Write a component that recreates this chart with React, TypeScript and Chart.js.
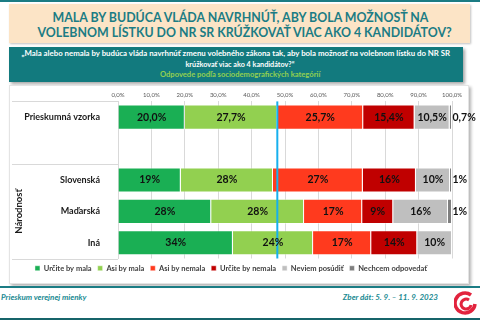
import React, { useEffect, useLayoutEffect, useRef, useState } from "react";
import { Chart, registerables } from "chart.js";

Chart.register(...registerables);

// ---- data ----
const categories = ["Prieskumná vzorka", "", "Slovenská", "Maďarská", "Iná"];
const seriesNames = [
  "Určite by mala",
  "Asi by mala",
  "Asi by nemala",
  "Určite by nemala",
  "Neviem posúdiť",
  "Nechcem odpovedať",
];
const urciteMala = [20.0, null, 18.8, 27.9, 34.4];
const asiMala = [27.7, null, 27.6, 27.8, 24.0];
const asiNemala = [25.7, null, 26.9, 17.4, 17.4];
const urciteNemala = [15.4, null, 15.9, 9.3, 13.8];
const neviem = [10.5, null, 10.2, 16.4, 10.4];
const nechcem = [0.7, null, 0.6, 1.2, 0];
const xTickValues = [0, 10, 20, 30, 40, 50, 60, 70, 80, 90, 100];
const groupLabel = "Národnosť";

const colors = ["#1aaf54", "#92d050", "#ff3a1e", "#c00000", "#bfbfbf", "#7f7f7f"];
const FONT = "Lato, 'Open Sans', sans-serif";
const TEAL = "#1b7c84";

function FitLine({ text, width, style }: { text: string; width: number; style?: any }) {
  const r = useRef<HTMLSpanElement>(null);
  const [s, setS] = useState(1);
  useLayoutEffect(() => {
    if (r.current) {
      const w = r.current.offsetWidth;
      if (w > 0) setS(width / w);
    }
  }, [text, width]);
  return (
    <div style={{ textAlign: "center", whiteSpace: "nowrap", ...style }}>
      <span
        ref={r}
        style={{ display: "inline-block", transform: `scaleX(${s})`, transformOrigin: "center" }}
      >
        {text}
      </span>
    </div>
  );
}

export default function App() {
  const ref = useRef<HTMLCanvasElement>(null);

  useEffect(() => {
    const canvas = ref.current!;
    const seriesValues = [urciteMala, asiMala, asiNemala, urciteNemala, neviem, nechcem];
    const lastIdx = seriesValues.length - 1;

    const deco = {
      id: "deco",
      beforeDatasetsDraw(chart: any) {
        const ctx = chart.ctx;
        const ca = chart.chartArea;
        const y = chart.scales.y;
        const sep = (y.getPixelForValue(1) + y.getPixelForValue(2)) / 2;
        ctx.save();
        ctx.strokeStyle = "#d9d9d9";
        ctx.lineWidth = 1;
        [ca.top, sep, ca.bottom].forEach((yy: number) => {
          ctx.beginPath();
          ctx.moveTo(2, Math.round(yy) + 0.5);
          ctx.lineTo(ca.left, Math.round(yy) + 0.5);
          ctx.stroke();
        });
        ctx.fillStyle = "#1a1a1a";
        ctx.font = `bold 9.5px ${FONT}`;
        ctx.textAlign = "center";
        ctx.textBaseline = "middle";
        ctx.translate(9, (sep + ca.bottom) / 2);
        ctx.rotate(-Math.PI / 2);
        ctx.fillText(groupLabel, 0, 0);
        ctx.restore();
      },
      afterDatasetsDraw(chart: any) {
        const ctx = chart.ctx;
        const ca = chart.chartArea;
        const x = chart.scales.x;
        ctx.save();
        const v = (urciteMala[0] as number) + (asiMala[0] as number);
        const px = x.getPixelForValue(v);
        ctx.strokeStyle = "#16b0ee";
        ctx.lineWidth = 2;
        ctx.beginPath();
        ctx.moveTo(px, ca.top);
        ctx.lineTo(px, ca.bottom);
        ctx.stroke();
        ctx.fillStyle = "#111";
        ctx.font = `bold 10.5px ${FONT}`;
        ctx.textBaseline = "middle";
        chart.data.datasets.forEach((ds: any, di: number) => {
          const meta = chart.getDatasetMeta(di);
          meta.data.forEach((el: any, i: number) => {
            const val = ds.data[i];
            if (!val) return;
            const txt =
              i === 0 ? val.toFixed(1).replace(".", ",") + "%" : Math.round(val) + "%";
            if (di === lastIdx) {
              ctx.textAlign = "left";
              ctx.fillText(txt, el.x + 0.5, el.y);
            } else {
              ctx.textAlign = "center";
              ctx.fillText(txt, (el.x + el.base) / 2, el.y);
            }
          });
        });
        ctx.restore();
      },
    };

    const chart = new Chart(canvas, {
      type: "bar",
      data: {
        labels: categories,
        datasets: seriesNames.map((name, i) => ({
          label: name,
          data: seriesValues[i] as any,
          backgroundColor: colors[i],
          borderColor: "rgba(255,255,255,0.45)",
          borderWidth: 1,
          categoryPercentage: 1,
          barPercentage: 0.8,
        })),
      },
      options: {
        indexAxis: "y",
        responsive: false,
        animation: false,
        layout: { padding: { left: 0, right: 28, top: 0, bottom: 2 } },
        scales: {
          x: {
            position: "top",
            stacked: true,
            min: 0,
            max: 100,
            afterBuildTicks: (s: any) => {
              s.ticks = xTickValues.map((v) => ({ value: v }));
            },
            afterFit: (s: any) => {
              s.height = 13;
            },
            ticks: {
              padding: 3,
              color: "#595959",
              font: { family: FONT, size: 6 },
              maxRotation: 0,
              callback: (v: any) => Number(v).toFixed(1).replace(".", ",") + "%",
            },
            grid: { color: "#d9d9d9", drawTicks: false },
            border: { display: false },
          },
          y: {
            stacked: true,
            afterFit: (s: any) => {
              s.width = 108;
            },
            ticks: {
              padding: 10,
              color: "#1a1a1a",
              font: { family: FONT, size: 9, weight: "bold" },
            },
            grid: { display: false },
            border: { display: true, color: "#d9d9d9" },
          },
        },
        plugins: {
          legend: {
            position: "bottom",
            labels: {
              boxWidth: 5,
              boxHeight: 5,
              padding: 6,
              color: "#404040",
              font: { family: FONT, size: 7.5, weight: "bold" },
            },
          },
          tooltip: { enabled: false },
        },
      },
      plugins: [deco],
    } as any);
    return () => chart.destroy();
  }, []);

  return (
    <div
      style={{
        position: "fixed",
        left: 0,
        top: 0,
        width: 480,
        height: 323,
        background: "#fff",
        overflow: "hidden",
        fontFamily: FONT,
      }}
    >
      <div style={{ position: "absolute", left: 0, top: 0, width: 480, height: 2, background: TEAL }} />
      <div
        style={{
          position: "absolute",
          left: 9,
          top: 4,
          width: 461,
          height: 39,
          background: "#fce4c6",
          boxShadow: "1px 1px 2px rgba(0,0,0,0.25)",
          color: TEAL,
          fontWeight: 700,
          fontSize: 14,
          lineHeight: "15px",
          paddingTop: 5,
          boxSizing: "border-box",
        }}
      >
        <FitLine text="MALA BY BUDÚCA VLÁDA NAVRHNÚŤ, ABY BOLA MOŽNOSŤ NA" width={376} style={{ marginLeft: 1 }} />
        <FitLine text="VOLEBNOM LÍSTKU DO NR SR KRÚŽKOVAŤ VIAC AKO 4 KANDIDÁTOV?" width={414} style={{ marginLeft: 1 }} />
      </div>
      <div
        style={{
          position: "absolute",
          left: 9,
          top: 47,
          width: 454,
          height: 35,
          background: "#127a7e",
          boxShadow: "2px 2px 3px rgba(0,0,0,0.35)",
          color: "#fff",
          fontWeight: 700,
          fontSize: 7.3,
          lineHeight: "10.5px",
          paddingTop: 2,
          boxSizing: "border-box",
        }}
      >
        <FitLine
          text="„Mala alebo nemala by budúca vláda navrhnúť zmenu volebného zákona tak, aby bola možnosť na volebnom lístku do NR SR"
          width={429}
        />
        <FitLine text="krúžkovať viac ako 4 kandidátov?“" width={109} style={{ marginLeft: 8 }} />
        <FitLine
          text="Odpovede podľa sociodemografických kategórií"
          width={160}
          style={{ color: "#92d050", marginLeft: 8 }}
        />
      </div>
      <div
        style={{
          position: "absolute",
          left: 9,
          top: 85,
          width: 460,
          height: 199,
          background: "#fff",
          border: "1px solid #e4e4e4",
          boxShadow: "2px 2px 3px rgba(0,0,0,0.3)",
          boxSizing: "border-box",
        }}
      />
      <canvas
        ref={ref}
        width={470}
        height={198}
        style={{ position: "absolute", left: 10, top: 86, width: 470, height: 198 }}
      />
      <div style={{ position: "absolute", left: 0, top: 286, width: 480, height: 2, background: TEAL }} />
      <div
        style={{
          position: "absolute",
          left: 1,
          top: 292,
          fontSize: 8,
          fontWeight: 700,
          fontStyle: "italic",
          color: "#1a8a92",
        }}
      >
        Prieskum verejnej mienky
      </div>
      <div
        style={{
          position: "absolute",
          right: 42,
          top: 292,
          fontSize: 8,
          fontWeight: 700,
          fontStyle: "italic",
          color: "#1a8a92",
        }}
      >
        Zber dát: 5. 9. – 11. 9. 2023
      </div>
      <svg style={{ position: "absolute", left: 454, top: 291 }} width={24} height={26} viewBox="0 0 24 26">
        <path d="M 17 4 A 10 10 0 1 0 21 13" fill="none" stroke="#e2233d" strokeWidth={3.5} />
        <path d="M 15 9 A 5 5 0 1 0 17 14" fill="none" stroke="#e2233d" strokeWidth={3} />
      </svg>
      <div style={{ position: "absolute", left: 0, top: 318, width: 480, height: 2, background: "#16646a" }} />
    </div>
  );
}
